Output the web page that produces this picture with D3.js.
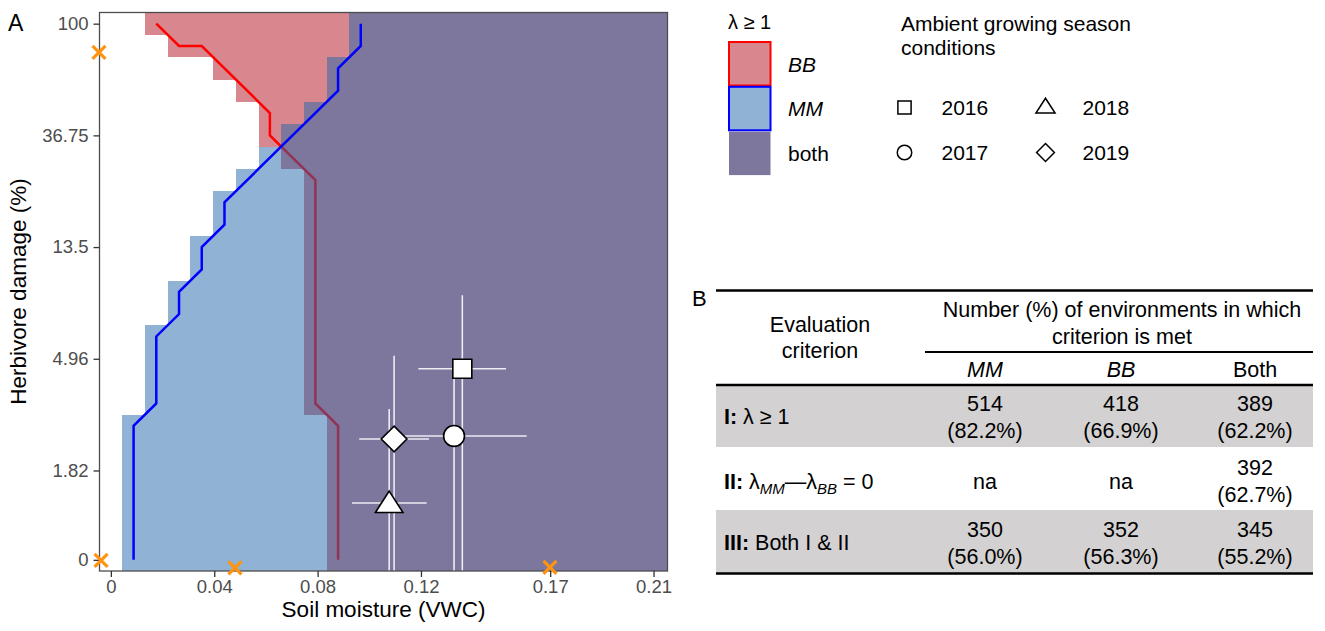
<!DOCTYPE html>
<html>
<head>
<meta charset="utf-8">
<script src="https://cdnjs.cloudflare.com/ajax/libs/d3/7.8.5/d3.min.js"></script>
<style>
  body { margin: 0; background: #fff; }
  svg text { font-family: "Liberation Sans", Arial, Helvetica, sans-serif; }
</style>
</head>
<body>
<script>
// ---- data ----
// soil moisture grid (VWC), one value per model column
const soilGrid = [0, 0.00879, 0.01758, 0.02638, 0.03517, 0.04396, 0.05275, 0.06154, 0.07033,
  0.07913, 0.08792, 0.09671, 0.1055, 0.11429, 0.12308, 0.13188, 0.14067, 0.14946, 0.15825,
  0.16704, 0.17583, 0.18463, 0.19342, 0.20221, 0.211];
// herbivore damage rows, on the log axis (top to bottom)
const damageRows = [4.6, 4.4, 4.2, 4.0, 3.8, 3.6, 3.4, 3.2, 3.0, 2.8, 2.6, 2.4, 2.2, 2.0,
  1.8, 1.6, 1.4, 1.2, 1.0, 0.8, 0.6, 0.4, 0.2, 0.0, -0.2];
// first grid column where lambda >= 1, per row
const bbFirstCol = [2, 3, 5, 6, 7, 7, 8, 9, 9, 9, 9, 9, 9, 9, 9, 9, 9, 9, 10, 10, 10, 10, 10, 10, 10];
const mmFirstCol = [11, 11, 10, 10, 9, 8, 7, 6, 5, 5, 4, 4, 3, 3, 2, 2, 2, 2, 1, 1, 1, 1, 1, 1, 1];

// lambda = 1 contour lines [soil moisture, log damage]
const bbLine = [[0.01758, 4.6], [0.02638, 4.4], [0.03517, 4.4], [0.06154, 3.8], [0.06154, 3.6],
  [0.07913, 3.2], [0.07913, 1.2], [0.08792, 1.0], [0.08792, -0.2]];
const mmLine = [[0.00879, -0.2], [0.00879, 1.0], [0.01758, 1.2], [0.01758, 1.8], [0.02638, 2.0],
  [0.02638, 2.2], [0.03517, 2.4], [0.03517, 2.6], [0.04396, 2.8], [0.04396, 3.0], [0.08792, 4.0],
  [0.08792, 4.2], [0.09671, 4.4], [0.09671, 4.6]];

// ambient conditions per year
const years = ["2016", "2017", "2018", "2019"];
const yearShape = ["square", "circle", "triangle", "diamond"];
const yearSoil = [0.1360, 0.1328, 0.1077, 0.1096];
const yearSoilLo = [0.1190, 0.1138, 0.0933, 0.0961];
const yearSoilHi = [0.1529, 0.1609, 0.1222, 0.1231];
const yearDamage = [1.511, 0.909, 0.309, 0.882];
const yearDamageLo = [-0.3, -0.3, -0.3, -0.3];
const yearDamageHi = [2.168, 1.49, 1.151, 1.628];

// orange crosses
const crossSoil = [-0.0046, -0.0038, 0.0480, 0.1699];
const crossDamage = [4.343, -0.205, -0.272, -0.268];

const xTicks = [0, 0.04, 0.08, 0.12, 0.17, 0.21];
const yTicks = [4.6, 3.6, 2.6, 1.6, 0.6, -0.2];
const yTickLabels = ["100", "36.75", "13.5", "4.96", "1.82", "0"];

// table B
const colHeads = ["MM", "BB", "Both"];
const rowCounts = [["514", "418", "389"], ["na", "na", "392"], ["350", "352", "345"]];
const rowPcts = [["(82.2%)", "(66.9%)", "(62.2%)"], [null, null, "(62.7%)"], ["(56.0%)", "(56.3%)", "(55.2%)"]];

// ---- drawing ----
const W = 1325, H = 631;
const svg = d3.select("body").append("svg").attr("width", W).attr("height", H);

const x = d3.scaleLinear().domain([-0.0044, 0.2154]).range([99.5, 667.5]);
const y = d3.scaleLinear().domain([-0.3, 4.7]).range([571, 12.5]);
const half = 0.004396;

const pink = "#d9878f";
const blueFill = "rgba(33,102,172,0.5)";

svg.append("clipPath").attr("id", "panel")
  .append("rect").attr("x", 99.5).attr("y", 12.5).attr("width", 568).attr("height", 558.5);

const panel = svg.append("g").attr("clip-path", "url(#panel)");

const line = d3.line().x(d => x(d[0])).y(d => y(d[1]));

// BB layer
panel.selectAll("rect.bb").data(damageRows).enter().append("rect")
  .attr("class", "bb")
  .attr("x", (d, i) => x(soilGrid[bbFirstCol[i]] - half))
  .attr("y", d => y(d + 0.1))
  .attr("width", (d, i) => x(soilGrid[24] + half) - x(soilGrid[bbFirstCol[i]] - half))
  .attr("height", d => y(d - 0.1) - y(d + 0.1))
  .attr("fill", pink)
  .attr("shape-rendering", "crispEdges");

panel.append("path").datum(bbLine).attr("d", line)
  .attr("fill", "none").attr("stroke", "#ff0000").attr("stroke-width", 2.5);

// MM layer (semi transparent)
panel.selectAll("rect.mm").data(damageRows).enter().append("rect")
  .attr("class", "mm")
  .attr("x", (d, i) => x(soilGrid[mmFirstCol[i]] - half))
  .attr("y", d => y(d + 0.1))
  .attr("width", (d, i) => x(soilGrid[24] + half) - x(soilGrid[mmFirstCol[i]] - half))
  .attr("height", d => y(d - 0.1) - y(d + 0.1))
  .attr("fill", blueFill)
  .attr("shape-rendering", "crispEdges");

panel.append("path").datum(mmLine).attr("d", line)
  .attr("fill", "none").attr("stroke", "#0000ff").attr("stroke-width", 2.5);

// error bars
years.forEach((yr, i) => {
  panel.append("line")
    .attr("x1", x(yearSoilLo[i])).attr("x2", x(yearSoilHi[i]))
    .attr("y1", y(yearDamage[i])).attr("y2", y(yearDamage[i]))
    .attr("stroke", "#ececf2").attr("stroke-width", 1.6);
  panel.append("line")
    .attr("x1", x(yearSoil[i])).attr("x2", x(yearSoil[i]))
    .attr("y1", y(yearDamageLo[i])).attr("y2", y(yearDamageHi[i]))
    .attr("stroke", "#ececf2").attr("stroke-width", 1.6);
});

function shapePath(shape, s) {
  if (shape === "square") return `M${-s},${-s}H${s}V${s}H${-s}Z`;
  if (shape === "triangle") return `M0,${-s * 1.25}L${s * 1.45},${s * 1.0}L${-s * 1.45},${s * 1.0}Z`;
  if (shape === "diamond") return `M0,${-s * 1.35}L${s * 1.35},0L0,${s * 1.35}L${-s * 1.35},0Z`;
  return null;
}

function drawShape(g, shape, cx, cy, s, fill, sw) {
  if (shape === "circle") {
    g.append("circle").attr("cx", cx).attr("cy", cy).attr("r", s * 1.1)
      .attr("fill", fill).attr("stroke", "#000").attr("stroke-width", sw);
  } else {
    g.append("path").attr("d", shapePath(shape, s))
      .attr("transform", `translate(${cx},${cy})`)
      .attr("fill", fill).attr("stroke", "#000").attr("stroke-width", sw)
      .attr("stroke-linejoin", "miter");
  }
}

years.forEach((yr, i) => {
  drawShape(panel, yearShape[i], x(yearSoil[i]), y(yearDamage[i]), 9.5, "#fff", 1.6);
});

// panel border
svg.append("rect").attr("x", 99.5).attr("y", 12.5).attr("width", 568).attr("height", 558.5)
  .attr("fill", "none").attr("stroke", "#4d4d4d").attr("stroke-width", 1.3);

// axes
const xAxis = d3.axisBottom(x).tickValues(xTicks).tickFormat(d => d3.format("")(d)).tickSize(6).tickPadding(3);
const gx = svg.append("g").attr("transform", "translate(0,571)").call(xAxis);
const yAxis = d3.axisLeft(y).tickValues(yTicks).tickFormat((d, i) => yTickLabels[i]).tickSize(6).tickPadding(5);
const gy = svg.append("g").attr("transform", "translate(99.5,0)").call(yAxis);
[gx, gy].forEach(g => {
  g.select(".domain").remove();
  g.selectAll(".tick line").attr("stroke", "#333").attr("stroke-width", 1.3);
  g.selectAll(".tick text").attr("fill", "#4d4d4d").style("font-size", "18.5px");
});

// crosses
crossSoil.forEach((v, i) => {
  const cx = x(v), cy = y(crossDamage[i]), r = 6.5;
  svg.append("path")
    .attr("d", `M${cx - r},${cy - r}L${cx + r},${cy + r}M${cx - r},${cy + r}L${cx + r},${cy - r}`)
    .attr("stroke", "#ff9410").attr("stroke-width", 3.2);
});

svg.append("text").attr("x", 383.5).attr("y", 617).attr("text-anchor", "middle")
  .style("font-size", "22.5px").text("Soil moisture (VWC)");
svg.append("text").attr("transform", "translate(26,291.5) rotate(-90)").attr("text-anchor", "middle")
  .style("font-size", "22.5px").text("Herbivore damage (%)");
svg.append("text").attr("x", 8).attr("y", 31).style("font-size", "23px").text("A");

// legend: lambda >= 1
const leg = svg.append("g");
leg.append("text").attr("x", 728).attr("y", 29).style("font-size", "20px").text("λ ≥ 1");
const legFills = [pink, "#90b2d5", "#7d779e"];
const legStrokes = ["#ff0000", "#0000ff", "none"];
const legLabels = ["BB", "MM", "both"];
legLabels.forEach((lab, i) => {
  const top = 42 + i * 44.8;
  leg.append("rect").attr("x", 729).attr("y", top).attr("width", 41.5).attr("height", 43.5)
    .attr("fill", legFills[i]).attr("stroke", legStrokes[i]).attr("stroke-width", 2);
  leg.append("text").attr("x", 788).attr("y", top + 22).attr("dominant-baseline", "central")
    .style("font-size", "21px").style("font-style", i < 2 ? "italic" : "normal").text(lab);
});

// legend: years
leg.append("text").attr("x", 901).attr("y", 31).style("font-size", "21px").text("Ambient growing season");
leg.append("text").attr("x", 901).attr("y", 55).style("font-size", "21px").text("conditions");
const legPos = [[904.5, 107.5], [904.5, 152.5], [1045.5, 106.5], [1045.5, 152.5]];
years.forEach((yr, i) => {
  drawShape(leg, yearShape[i], legPos[i][0], legPos[i][1], 6.6, "none", 1.5);
  leg.append("text").attr("x", legPos[i][0] + 37).attr("y", i === 2 ? 107.5 : legPos[i][1])
    .attr("dominant-baseline", "central").style("font-size", "21px").text(yr);
});

// ---- table B ----
const tb = svg.append("g").style("font-size", "21.5px");
const colX = [985, 1121, 1255];
const tL = 716, tR = 1313;
svg.append("text").attr("x", 692).attr("y", 306).style("font-size", "22px").text("B");

tb.append("rect").attr("x", tL).attr("y", 385).attr("width", tR - tL).attr("height", 62).attr("fill", "#d3d1d1");
tb.append("rect").attr("x", tL).attr("y", 510).attr("width", tR - tL).attr("height", 63).attr("fill", "#d3d1d1");

const rule = (x1, x2, yy, w) => tb.append("line").attr("x1", x1).attr("x2", x2)
  .attr("y1", yy).attr("y2", yy).attr("stroke", "#000").attr("stroke-width", w);
rule(tL, tR, 290.5, 2.5);
rule(925, tR, 352, 2);
rule(tL, tR, 385, 2.5);
rule(tL, tR, 573.5, 2.5);

const ctext = (xx, yy, t) => tb.append("text").attr("x", xx).attr("y", yy)
  .attr("text-anchor", "middle").attr("dominant-baseline", "central").text(t);
ctext(820, 325, "Evaluation");
ctext(820, 351, "criterion");
ctext(1122, 310, "Number (%) of environments in which");
ctext(1122, 337, "criterion is met");
colHeads.forEach((h, i) => ctext(colX[i], 370, h).style("font-style", i < 2 ? "italic" : "normal"));

const rowMid = [417, 481.5, 543];
rowCounts.forEach((row, r) => {
  row.forEach((c, j) => {
    if (rowPcts[r][j]) {
      ctext(colX[j], rowMid[r] - 13.5, c);
      ctext(colX[j], rowMid[r] + 13.5, rowPcts[r][j]);
    } else {
      ctext(colX[j], rowMid[r], c);
    }
  });
});

const lt = (yy) => tb.append("text").attr("x", 724).attr("y", yy).attr("dominant-baseline", "central");
const r1 = lt(rowMid[0]);
r1.append("tspan").style("font-weight", "bold").text("I:");
r1.append("tspan").text(" λ ≥ 1");
const r2 = lt(rowMid[1]);
r2.append("tspan").style("font-weight", "bold").text("II:");
r2.append("tspan").text(" λ");
r2.append("tspan").attr("dy", 6).style("font-size", "15px").style("font-style", "italic").text("MM");
r2.append("tspan").attr("dy", -6).text("—λ");
r2.append("tspan").attr("dy", 6).style("font-size", "15px").style("font-style", "italic").text("BB");
r2.append("tspan").attr("dy", -6).text(" = 0");
const r3 = lt(rowMid[2]);
r3.append("tspan").style("font-weight", "bold").text("III:");
r3.append("tspan").text(" Both I & II");
</script>
</body>
</html>
